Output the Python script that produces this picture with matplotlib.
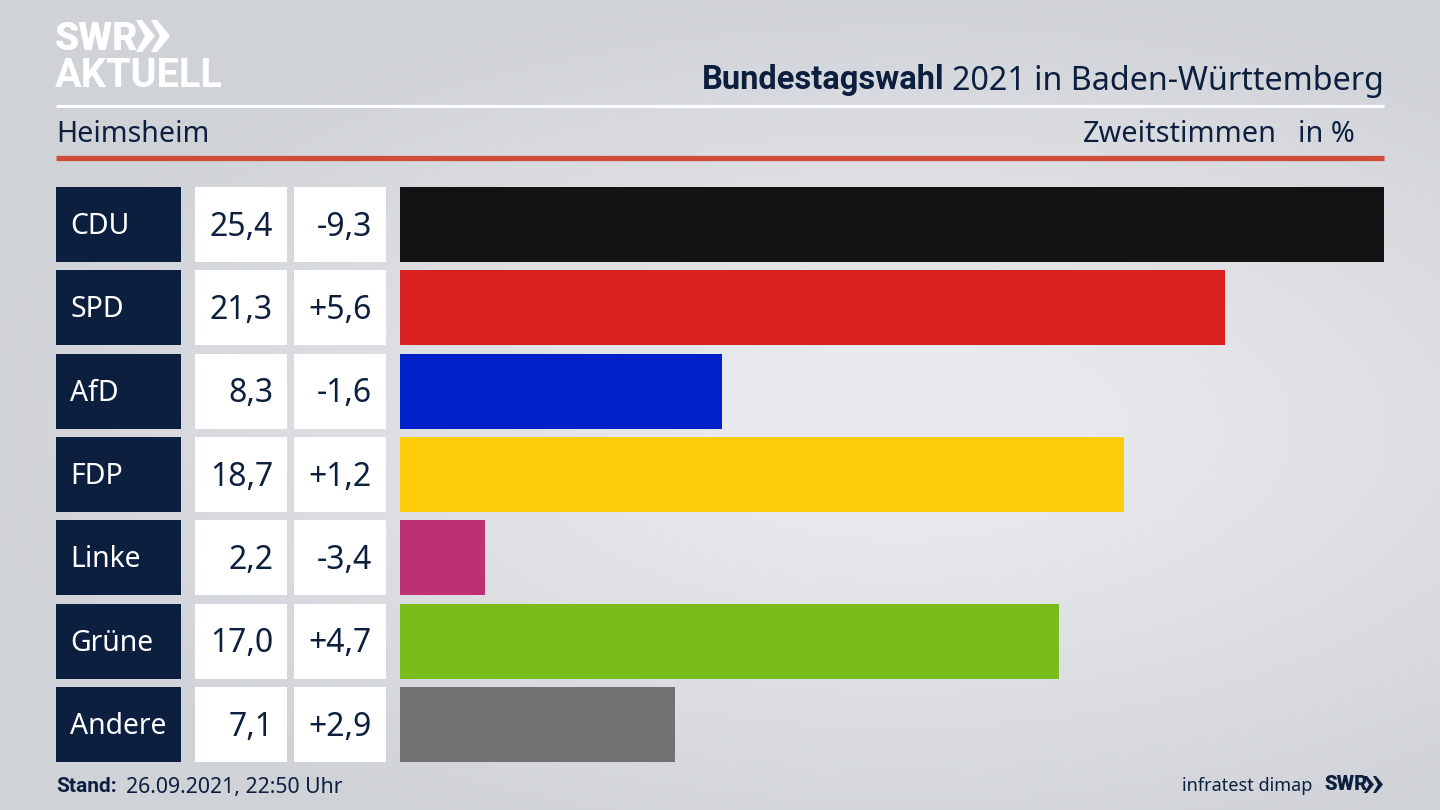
import numpy as np
import matplotlib
matplotlib.use('Agg')
import matplotlib.pyplot as plt
from matplotlib.patches import Polygon

plt.rcParams['font.family'] = ['Noto Sans', 'DejaVu Sans']

parties = ['CDU', 'SPD', 'AfD', 'FDP', 'Linke', 'Grüne', 'Andere']
shares = [25.4, 21.3, 8.3, 18.7, 2.2, 17.0, 7.1]
changes = [-9.3, 5.6, -1.6, 1.2, -3.4, 4.7, 2.9]
bar_colors = ['#131313', '#da1f1f', '#0020c8', '#ffcc0a', '#bd3075', '#78bd1a', '#707173']

navy = '#0c1f3f'
W, H = 1440, 810
row_top, row_bottom = 187, 762


def comma(v, signed=False):
    s = f'{v:+.1f}' if signed else f'{v:.1f}'
    return s.replace('.', ',')


def column(left, right):
    # one axes per column, all share the same row scale
    ax = fig.add_axes([left / W, 1 - row_bottom / H, (right - left) / W, (row_bottom - row_top) / H])
    ax.set_ylim(6.45, -0.45)
    ax.axis('off')
    return ax


fig = plt.figure(figsize=(14.4, 8.1), dpi=100)

# background + header furniture in pixel coordinates
bg = fig.add_axes([0, 0, 1, 1])
bg.set_xlim(0, W)
bg.set_ylim(H, 0)
bg.axis('off')
yy, xx = np.mgrid[0:H, 0:W]
glow = np.clip(1 - np.hypot((xx - 900) / 950, (yy - 430) / 450), 0, 1)
bg.imshow(glow, cmap=matplotlib.colors.LinearSegmentedColormap.from_list('bg', ['#cfd2d7', '#e8e9ec']),
          extent=(0, W, H, 0), aspect='auto', vmin=0, vmax=0.8, zorder=0)

bg.plot([56, 1384], [105.5, 105.5], color='white', lw=2.2, solid_capstyle='butt')
bg.plot([56, 1384], [157.5, 157.5], color='#cf4b3a', lw=3.8, solid_capstyle='butt')

# SWR AKTUELL logo
bg.text(55, 40, 'SWR', color='white', fontsize=28, fontweight='black', family='Roboto', va='center', ha='left')
bg.text(55, 76, 'AKTUELL', color='white', fontsize=28.6, fontweight='bold', family='Roboto', va='center', ha='left')
for x0 in (136, 151):
    bg.add_patch(Polygon([(x0, 20), (x0 + 6, 20), (x0 + 19, 36), (x0 + 6, 52), (x0, 52), (x0 + 9, 36)],
                         closed=True, color='white', lw=0))

bg.text(1384, 81, '2021 in Baden-Württemberg', color=navy, fontsize=23.2, ha='right', va='center')
bg.text(945, 80, 'Bundestagswahl', color=navy, fontsize=23.5, fontweight='bold', family='Roboto', ha='right', va='center')
bg.text(56, 135, 'Heimsheim', color=navy, fontsize=20.6, ha='left', va='center')
bg.text(1277, 135, 'Zweitstimmen', color=navy, fontsize=20.8, ha='right', va='center')
bg.text(1355, 135, 'in %', color=navy, fontsize=20.8, ha='right', va='center')

# footer
bg.text(56, 786, 'Stand:', color=navy, fontsize=15, fontweight='bold', family='Roboto', ha='left', va='center')
bg.text(126, 787, '26.09.2021, 22:50 Uhr', color=navy, fontsize=15.3, ha='left', va='center')
bg.text(1312, 786, 'infratest dimap', color=navy, fontsize=13, ha='right', va='center')
bg.text(1324, 785, 'SWR', color=navy, fontsize=14.5, fontweight='black', family='Roboto', ha='left', va='center')
for x0 in (1364, 1373):
    bg.add_patch(Polygon([(x0, 776), (x0 + 3, 776), (x0 + 10, 784.5), (x0 + 3, 793), (x0, 793), (x0 + 5, 784.5)],
                         closed=True, color=navy, lw=0))

rows = np.arange(len(parties))

ax_party = column(56, 181)
ax_party.barh(rows, 1, height=0.9, color=navy)
ax_party.set_xlim(0, 1)
for r, name in zip(rows, parties):
    ax_party.text(14 / 125, r + 0.025, name, color='white', fontsize=20.4, va='center', ha='left')

ax_share = column(195, 287)
ax_share.barh(rows, 1, height=0.9, color='white')
ax_share.set_xlim(0, 1)
for r, v in zip(rows, shares):
    ax_share.text(78 / 92, r + 0.03, comma(v), color=navy, fontsize=23, va='center', ha='right')

ax_change = column(294, 386)
ax_change.barh(rows, 1, height=0.9, color='white')
ax_change.set_xlim(0, 1)
for r, v in zip(rows, changes):
    ax_change.text(78 / 92, r + 0.03, comma(v, signed=True), color=navy, fontsize=23, va='center', ha='right')

ax_bar = column(400, 1384)
ax_bar.barh(rows, shares, height=0.9, color=bar_colors)
ax_bar.set_xlim(0, max(shares))

fig.savefig('out.png', dpi=100)
